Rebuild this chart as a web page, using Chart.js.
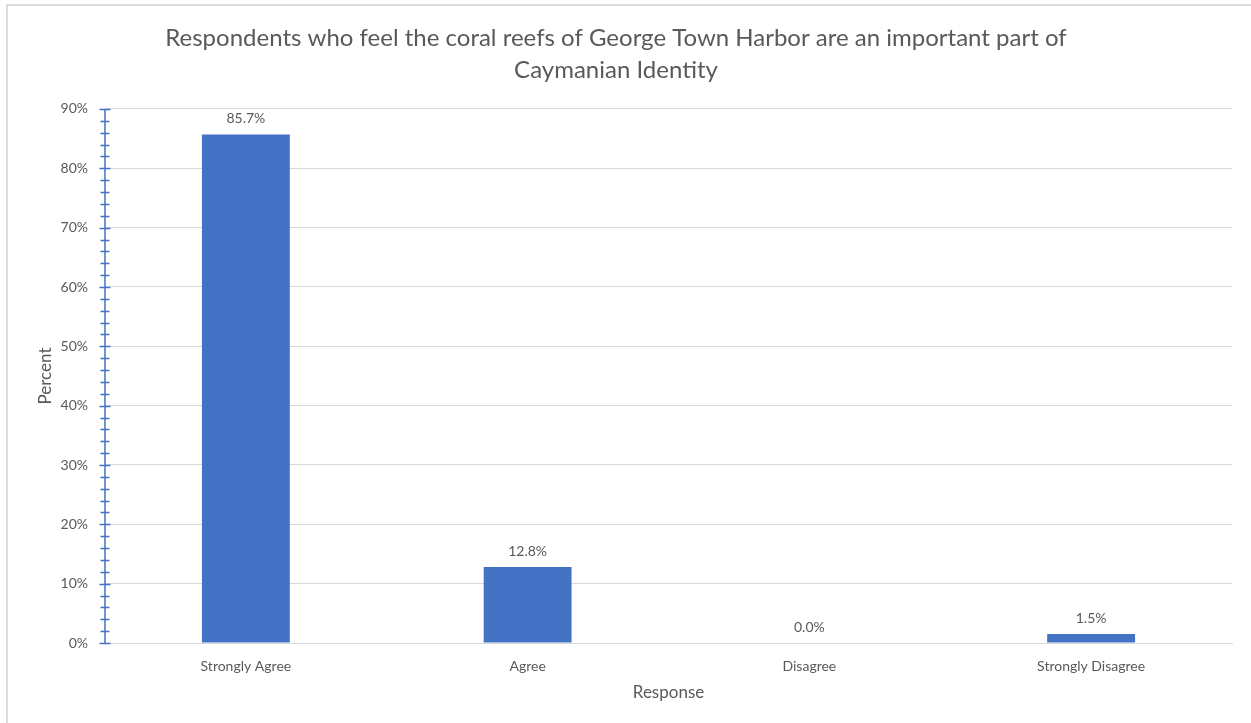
<!DOCTYPE html>
<html>
<head>
<meta charset="utf-8">
<script src="https://cdn.jsdelivr.net/npm/chart.js@4/dist/chart.umd.min.js"></script>
<style>
    html, body { margin: 0; padding: 0; background: #fff; }
    #frame {
        position: absolute; left: 6px; top: 4px; right: 0; bottom: 0;
        border-top: 2px solid #dcdcdc; border-left: 2px solid #dcdcdc;
    }
    #wrap { position: absolute; left: 0; top: 0; width: 1251px; height: 723px; }
</style>
</head>
<body>
<div id="frame"></div>
<div id="wrap"><canvas id="chart"></canvas></div>
<script>
    'use strict';

    // chart data
    const categories = ['Strongly Agree', 'Agree', 'Disagree', 'Strongly Disagree'];
    const percentValues = [85.7, 12.8, 0.0, 1.5];
    const yTickValues = [0, 10, 20, 30, 40, 50, 60, 70, 80, 90];

    const FONT = 'Lato, "Open Sans", sans-serif';
    const TEXT = '#595959';
    const BAR = '#4472C4';

    // value labels above the bars
    const barLabels = {
        id: 'barLabels',
        afterDatasetsDraw(chart) {
            const ctx = chart.ctx;
            const meta = chart.getDatasetMeta(0);
            ctx.save();
            ctx.font = '14px ' + FONT;
            ctx.fillStyle = TEXT;
            ctx.textAlign = 'center';
            ctx.textBaseline = 'middle';
            meta.data.forEach((bar, i) => {
                ctx.fillText(percentValues[i].toFixed(1) + '%', bar.x, bar.y - 16);
            });
            ctx.restore();
        }
    };

    // blue y axis with crossing major / minor tick marks
    const axisTicks = {
        id: 'axisTicks',
        afterDraw(chart) {
            const y = chart.scales.y;
            const ctx = chart.ctx;
            const x0 = chart.chartArea.left;
            ctx.save();
            ctx.strokeStyle = BAR;
            ctx.lineWidth = 1.5;
            ctx.beginPath();
            ctx.moveTo(x0, y.getPixelForValue(y.max));
            ctx.lineTo(x0, y.getPixelForValue(y.min));
            for (let v = y.min; v <= y.max; v += 2) {
                const py = Math.round(y.getPixelForValue(v)) + 0.5;
                const half = (v % 10 === 0) ? 5.5 : 4.5;
                ctx.moveTo(x0 - half, py);
                ctx.lineTo(x0 + half, py);
            }
            ctx.stroke();
            ctx.restore();
        }
    };

    new Chart(document.getElementById('chart'), {
        type: 'bar',
        data: {
            labels: categories,
            datasets: [{
                data: percentValues,
                backgroundColor: BAR,
                barPercentage: 0.312,
                categoryPercentage: 1
            }]
        },
        options: {
            responsive: true,
            maintainAspectRatio: false,
            animation: false,
            layout: { padding: { left: 0, right: 19, top: 0, bottom: 0 } },
            plugins: {
                legend: { display: false },
                tooltip: { enabled: false },
                title: {
                    display: true,
                    text: [
                        'Respondents who feel the coral reefs of George Town Harbor are an important part of',
                        'Caymanian Identity'
                    ],
                    color: TEXT,
                    font: { family: FONT, size: 24, weight: 'normal', lineHeight: 1.333 },
                    padding: { top: 22, bottom: 23 }
                }
            },
            scales: {
                x: {
                    grid: { display: false, drawTicks: false },
                    border: { color: '#d9d9d9', width: 1 },
                    ticks: { color: TEXT, font: { family: FONT, size: 14 }, padding: 15, maxRotation: 0 },
                    title: {
                        display: true, text: 'Response', color: TEXT,
                        font: { family: FONT, size: 17 }, padding: { top: 0, bottom: 20 }
                    },
                    afterFit(scale) { scale.height = 80; }
                },
                y: {
                    min: 0,
                    max: 90,
                    afterBuildTicks(scale) { scale.ticks = yTickValues.map(v => ({ value: v })); },
                    grid: { color: '#d9d9d9', drawTicks: false },
                    border: { display: false },
                    ticks: {
                        color: TEXT, font: { family: FONT, size: 14 }, padding: 17,
                        callback: v => v + '%'
                    },
                    title: {
                        display: true, text: 'Percent', color: TEXT,
                        font: { family: FONT, size: 17 }, padding: { top: 35, bottom: 35 }
                    },
                    afterFit(scale) { scale.width = 105; }
                }
            }
        },
        plugins: [barLabels, axisTicks]
    });
</script>
</body>
</html>
